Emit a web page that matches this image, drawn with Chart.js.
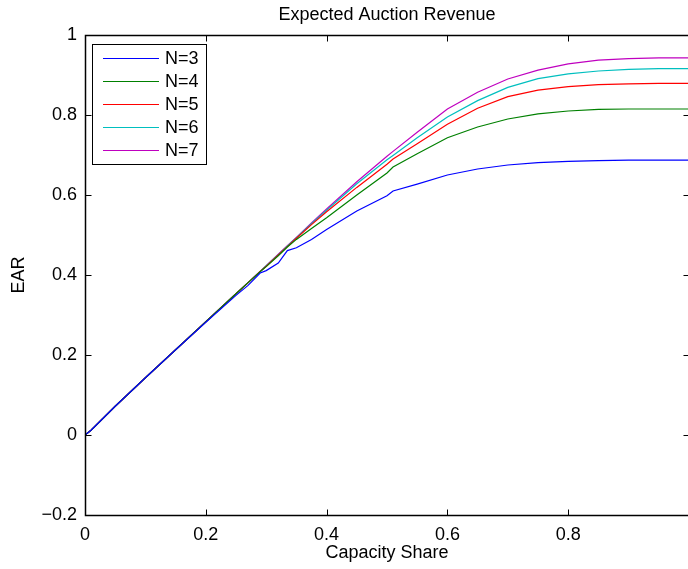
<!DOCTYPE html>
<html>
<head>
<meta charset="utf-8">
<title>Expected Auction Revenue</title>
<script src="https://cdn.jsdelivr.net/npm/chart.js@4/dist/chart.umd.min.js"></script>
<style>
  html, body { margin: 0; padding: 0; background: #fff; overflow: hidden; }
  #wrap { width: 690px; height: 569px; }
</style>
</head>
<body>
<div id="wrap"><canvas id="c" width="690" height="569"></canvas></div>
<script>
// Capacity share (x) sample points shared by all curves
const capacityShare = [0, 0.01, 0.05, 0.1, 0.15, 0.2, 0.25, 0.27, 0.29, 0.3, 0.32, 0.335, 0.35, 0.375, 0.4, 0.45, 0.5, 0.51, 0.55, 0.6, 0.65, 0.7, 0.75, 0.8, 0.85, 0.9, 0.95, 1.0];

// Expected auction revenue for each number of bidders N
const earN3 = [0, 0.012, 0.072, 0.143, 0.213, 0.282, 0.349, 0.374, 0.405, 0.411, 0.430, 0.461, 0.468, 0.489, 0.514, 0.560, 0.598, 0.610, 0.627, 0.650, 0.665, 0.675, 0.681, 0.684, 0.686, 0.687, 0.687, 0.687];
const earN4 = [0, 0.012, 0.072, 0.143, 0.213, 0.283, 0.353, 0.381, 0.408, 0.421, 0.448, 0.470, 0.489, 0.516, 0.543, 0.600, 0.655, 0.670, 0.703, 0.743, 0.770, 0.790, 0.803, 0.810, 0.814, 0.815, 0.815, 0.815];
const earN5 = [0, 0.012, 0.072, 0.143, 0.213, 0.283, 0.353, 0.381, 0.409, 0.422, 0.450, 0.471, 0.492, 0.526, 0.558, 0.619, 0.677, 0.690, 0.728, 0.777, 0.817, 0.846, 0.862, 0.871, 0.876, 0.878, 0.879, 0.879];
const earN6 = [0, 0.012, 0.072, 0.143, 0.213, 0.283, 0.353, 0.381, 0.409, 0.423, 0.451, 0.472, 0.493, 0.528, 0.562, 0.628, 0.688, 0.699, 0.743, 0.795, 0.836, 0.869, 0.891, 0.903, 0.910, 0.914, 0.916, 0.916];
const earN7 = [0, 0.012, 0.072, 0.143, 0.213, 0.283, 0.353, 0.381, 0.409, 0.423, 0.452, 0.473, 0.494, 0.530, 0.565, 0.633, 0.697, 0.709, 0.757, 0.815, 0.857, 0.890, 0.912, 0.928, 0.937, 0.941, 0.943, 0.943];

const seriesLabels = ['N=3', 'N=4', 'N=5', 'N=6', 'N=7'];
const seriesColors = ['#0000ff', '#008000', '#ff0000', '#00bfbf', '#bf00bf'];
const seriesValues = [earN3, earN4, earN5, earN6, earN7];

const xTicks = [0, 0.2, 0.4, 0.6, 0.8, 1.0];
const yTicks = [-0.2, 0, 0.2, 0.4, 0.6, 0.8, 1.0];

const chartTitle = 'Expected Auction Revenue';
const xTitle = 'Capacity Share';
const yTitle = 'EAR';

const FONT = '"Liberation Sans", Arial, Helvetica, sans-serif';
const FS = 18;

function fmt(v) {
  const r = Math.round(v * 10) / 10;
  if (r < 0) return '\u2212' + String(-r);
  return String(r);
}

// Box, inward ticks, legend and text labels in the MATLAB figure style
const figureDecor = {
  id: 'figureDecor',
  afterDatasetsDraw(chart) {
    const { ctx, chartArea: a, scales: { x, y } } = chart;
    ctx.save();
    ctx.strokeStyle = '#000';
    ctx.lineWidth = 1;
    const L = Math.round(a.left) + 0.5, R = Math.round(a.right) + 0.5;
    const T = Math.round(a.top) + 0.5, B = Math.round(a.bottom) + 0.5;
    const tl = 6;
    ctx.beginPath();
    xTicks.forEach(v => {
      const px = Math.round(x.getPixelForValue(v)) + 0.5;
      ctx.moveTo(px, B); ctx.lineTo(px, B - tl);
      ctx.moveTo(px, T); ctx.lineTo(px, T + tl);
    });
    yTicks.forEach(v => {
      const py = Math.round(y.getPixelForValue(v)) + 0.5;
      ctx.moveTo(L, py); ctx.lineTo(L + tl, py);
      ctx.moveTo(R, py); ctx.lineTo(R - tl, py);
    });
    ctx.stroke();
    ctx.lineWidth = 1.5;
    ctx.strokeRect(L, T, R - L, B - T);

    // legend
    const lx = 92.5, ly = 44.5, lw = 114, lh = 120;
    ctx.fillStyle = '#fff';
    ctx.fillRect(lx, ly, lw, lh);
    ctx.lineWidth = 1;
    ctx.strokeRect(lx, ly, lw, lh);
    ctx.font = FS + 'px ' + FONT;
    ctx.textBaseline = 'middle';
    ctx.textAlign = 'left';
    chart.data.datasets.forEach((ds, i) => {
      const ry = 58 + i * 23;
      ctx.strokeStyle = ds.borderColor;
      ctx.lineWidth = 1;
      ctx.beginPath();
      ctx.moveTo(103, ry + 0.5); ctx.lineTo(159, ry + 0.5);
      ctx.stroke();
      ctx.fillStyle = '#000';
      ctx.fillText(ds.label, 165, ry + 1);
    });
    ctx.restore();
  },
  afterDraw(chart) {
    const { ctx, chartArea: a } = chart;
    const cx = (a.left + a.right) / 2;
    ctx.save();
    ctx.fillStyle = '#000';
    ctx.font = FS + 'px ' + FONT;
    ctx.textAlign = 'center';
    ctx.textBaseline = 'middle';
    ctx.fillText(chartTitle, cx, 15);
    ctx.fillText(xTitle, cx, 553);
    ctx.translate(19, (a.top + a.bottom) / 2);
    ctx.rotate(-Math.PI / 2);
    ctx.fillText(yTitle, 0, 0);
    ctx.restore();
  }
};

const datasets = seriesValues.map((vals, i) => ({
  label: seriesLabels[i],
  data: capacityShare.map((cs, j) => ({ x: cs, y: vals[j] })),
  borderColor: seriesColors[i],
  backgroundColor: seriesColors[i],
  borderWidth: 1.2,
  pointRadius: 0,
  tension: 0,
  fill: false
}));

new Chart(document.getElementById('c'), {
  type: 'line',
  data: { datasets },
  options: {
    responsive: false,
    animation: false,
    devicePixelRatio: 1,
    layout: { padding: { top: 35, right: 1, left: 0, bottom: 0 } },
    plugins: { legend: { display: false }, title: { display: false }, tooltip: { enabled: false } },
    scales: {
      x: {
        type: 'linear', min: 0, max: 1,
        afterFit(s) { s.height = 54; s.paddingLeft = 0; s.paddingRight = 0; },
        afterBuildTicks(s) { s.ticks = xTicks.map(v => ({ value: v })); },
        grid: { display: false, drawTicks: false },
        border: { display: false },
        ticks: {
          padding: 9, color: '#000', maxRotation: 0, autoSkip: false,
          font: { family: FONT, size: FS },
          callback: v => (v >= 1 ? '' : fmt(v))
        }
      },
      y: {
        type: 'linear', min: -0.2, max: 1,
        afterFit(s) { s.width = 85; s.paddingTop = 0; s.paddingBottom = 0; },
        afterBuildTicks(s) { s.ticks = yTicks.map(v => ({ value: v })); },
        grid: { display: false, drawTicks: false },
        border: { display: false },
        ticks: {
          padding: 8, color: '#000', autoSkip: false,
          font: { family: FONT, size: FS },
          callback: v => fmt(v)
        }
      }
    }
  },
  plugins: [figureDecor]
});
</script>
</body>
</html>
